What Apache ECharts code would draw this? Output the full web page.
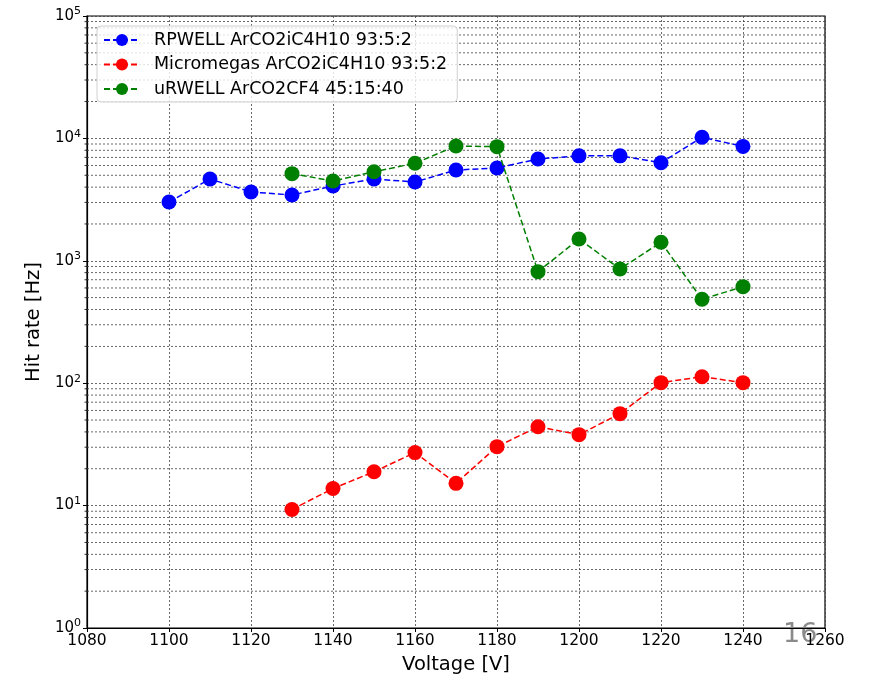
<!DOCTYPE html>
<html>
<head>
<meta charset="utf-8">
<script src="https://cdn.jsdelivr.net/npm/echarts@6/dist/echarts.min.js"></script>
<style>
  html, body { margin: 0; padding: 0; background: #fff; }
  #chart { width: 874px; height: 675px; }
</style>
</head>
<body>
<div id="chart"></div>
<script>
// Hit rate versus operating voltage for three detector / gas combinations
const voltagesRpwell = [1100, 1110, 1120, 1130, 1140, 1150, 1160, 1170, 1180, 1190, 1200, 1210, 1220, 1230, 1240];
const rateRpwell     = [3020, 4660, 3650, 3450, 4080, 4660, 4400, 5520, 5730, 6790, 7200, 7200, 6320, 10220, 8600];

const voltagesMM = [1130, 1140, 1150, 1160, 1170, 1180, 1190, 1200, 1210, 1220, 1230, 1240];
const rateMM     = [9.3, 13.8, 18.9, 27.1, 15.2, 30.3, 44.1, 38.0, 56.4, 101, 113, 101];

const voltagesUrwell = [1130, 1140, 1150, 1160, 1170, 1180, 1190, 1200, 1210, 1220, 1230, 1240];
const rateUrwell     = [5150, 4490, 5340, 6260, 8670, 8560, 815, 1507, 857, 1416, 485, 615];

const seriesNames = ['RPWELL ArCO2iC4H10 93:5:2', 'Micromegas ArCO2iC4H10 93:5:2', 'uRWELL ArCO2CF4 45:15:40'];
const seriesColors = ['#0000ff', '#ff0000', '#008000'];

const xMin = 1080, xMax = 1260, xStep = 20;
const yDecades = [0, 1, 2, 3, 4, 5];
const minorMultipliers = [2, 3, 4, 5, 6, 7, 8, 9];

// minor log positions (2..9 x 10^k) for the fine grid
const minorValues = [];
yDecades.slice(0, -1).forEach(k => minorMultipliers.forEach(m => minorValues.push(m * Math.pow(10, k))));

const font = 'DejaVu Sans';
const pairs = (xs, ys) => xs.map((x, i) => [x, ys[i]]);

const chart = echarts.init(document.getElementById('chart'), null, { renderer: 'canvas' });

function lineSeries(idx, xs, ys) {
  return {
    name: seriesNames[idx],
    type: 'line',
    data: pairs(xs, ys),
    symbol: 'circle',
    symbolSize: 15,
    itemStyle: { color: seriesColors[idx] },
    lineStyle: { color: seriesColors[idx], width: 1.5, type: [6, 3] },
    z: 5 + idx,
    animation: false
  };
}

const gridStyle = { color: '#444', width: 0.8, type: [2, 2] };

chart.setOption({
  animation: false,
  textStyle: { fontFamily: font },
  grid: {
    left: 87, right: 49, top: 16, bottom: 47,
    outerBoundsMode: 'none', containLabel: false,
    show: true, borderColor: '#000', borderWidth: 1.2, backgroundColor: 'transparent'
  },
  legend: {
    orient: 'vertical',
    left: 97, top: 26,
    padding: [4, 10, 3, 6],
    itemGap: 4.5,
    itemWidth: 36, itemHeight: 15,
    backgroundColor: 'rgba(255,255,255,0.8)',
    borderColor: '#d0d0d0', borderWidth: 1, borderRadius: 4,
    textStyle: { fontSize: 17.5, lineHeight: 20, color: '#000', fontFamily: font, padding: [0, 0, 0, 9] },
    data: seriesNames
  },
  xAxis: {
    type: 'value',
    min: xMin, max: xMax, interval: xStep,
    name: 'Voltage [V]', nameLocation: 'middle', nameGap: 27,
    nameTextStyle: { fontSize: 19.5, color: '#000', fontFamily: font },
    axisLine: { show: true, onZero: false, lineStyle: { color: '#000', width: 1.2 } },
    axisTick: { show: true, inside: false, length: 4, lineStyle: { color: '#000' } },
    axisLabel: { fontSize: 15.5, color: '#000', margin: 5, fontFamily: font, formatter: v => String(v) },
    splitLine: { show: true, lineStyle: gridStyle }
  },
  yAxis: {
    type: 'log', logBase: 10,
    min: 1, max: 100000,
    name: 'Hit rate [Hz]', nameLocation: 'middle', nameGap: 43,
    nameTextStyle: { fontSize: 19.5, color: '#000', fontFamily: font },
    axisLine: { show: true, lineStyle: { color: '#000', width: 1.2 } },
    axisTick: { show: true, inside: false, length: 4, lineStyle: { color: '#000' } },
    axisLabel: {
      color: '#000', margin: 6,
      formatter: v => '{b|10}{s|' + Math.round(Math.log10(v)) + '}',
      rich: {
        b: { fontSize: 15, fontFamily: font, color: '#000' },
        s: { fontSize: 11, fontFamily: font, color: '#000', verticalAlign: 'top', padding: [0, 0, 9, 0] }
      }
    },
    splitLine: { show: true, lineStyle: gridStyle }
  },
  graphic: [{
    type: 'text', left: 783, top: 621,
    style: { text: '16', fontSize: 27, fill: '#8a8a8a', fontFamily: font }
  }],
  series: [
    {
      // minor horizontal grid lines with small outward ticks on the left axis
      type: 'custom',
      data: minorValues.map(v => [xMin, v]),
      silent: true,
      clip: false,
      z: 1,
      renderItem: (params, api) => {
        const v = api.value(1);
        const a = api.coord([xMin, v]);
        const b = api.coord([xMax, v]);
        return {
          type: 'group',
          children: [
            { type: 'line', shape: { x1: a[0], y1: a[1], x2: b[0], y2: b[1] }, style: { stroke: gridStyle.color, lineWidth: gridStyle.width, lineDash: [2, 2] } },
            { type: 'line', shape: { x1: a[0] - 2.5, y1: a[1], x2: a[0], y2: a[1] }, style: { stroke: '#000', lineWidth: 0.8 } }
          ]
        };
      }
    },
    lineSeries(0, voltagesRpwell, rateRpwell),
    lineSeries(1, voltagesMM, rateMM),
    lineSeries(2, voltagesUrwell, rateUrwell)
  ]
});
</script>
</body>
</html>
